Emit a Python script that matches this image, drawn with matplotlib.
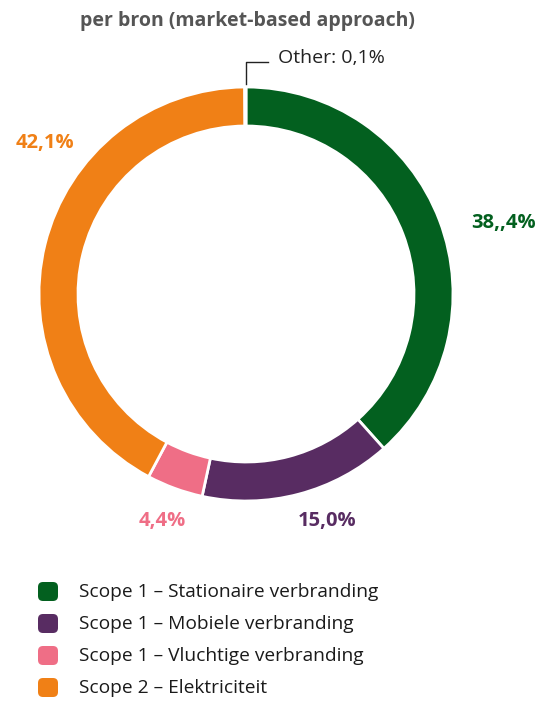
import matplotlib
matplotlib.use("Agg")
import matplotlib.pyplot as plt
from matplotlib.patches import FancyBboxPatch

plt.rcParams['font.family'] = ['Open Sans', 'DejaVu Sans']

title = "per bron (market-based approach)"
categories = ["Scope 1 – Stationaire verbranding", "Scope 1 – Mobiele verbranding",
              "Scope 1 – Vluchtige verbranding", "Scope 2 – Elektriciteit", "Other"]
values = [38.4, 15.0, 4.4, 42.1, 0.1]
value_labels = ["38,,4%", "15,0%", "4,4%", "42,1%", "Other: 0,1%"]
colors = ["#03601f", "#582c62", "#ef6e86", "#f08016", "#b0b0b0"]

W, H = 552, 702
fig = plt.figure(figsize=(W / 100, H / 100), dpi=100)
ax = fig.add_axes([0, 0, 1, 1])

cx, cy, R = 246, H - 294, 207
ax.pie(values, colors=colors, startangle=90, counterclock=False,
       center=(cx, cy), radius=R, frame=True,
       wedgeprops=dict(width=39, edgecolor="white", linewidth=2))
ax.set_xlim(0, W)
ax.set_ylim(0, H)
ax.set_aspect("equal")
ax.axis("off")

fig.text(247 / W, 1 - 21 / H, title, ha="center", va="center",
         fontsize=14, fontweight="bold", color="#555555")

# value labels
label_pos = [(504, 223), (327, 521), (162, 521), (45, 143)]
for (x, y), lab, c in zip(label_pos, value_labels[:4], colors[:4]):
    ax.text(x, H - y, lab, ha="center", va="center", fontsize=14.5,
            fontweight="bold", color=c)

# Other annotation
ax.plot([246, 246, 268], [H - 84, H - 62, H - 62], color="#222222", lw=1)
ax.text(278, H - 58, value_labels[4], ha="left", va="center", fontsize=14,
        color="#222222")

# legend
rows = [592, 624, 656, 688]
for y, lab, c in zip(rows, categories[:4], colors[:4]):
    ax.add_patch(FancyBboxPatch((38, H - y - 9), 20, 19,
                                boxstyle="round,pad=0,rounding_size=5",
                                facecolor=c, edgecolor="none"))
    ax.text(79, H - y, lab, ha="left", va="center", fontsize=13.8,
            color="#1a1a1a")

fig.savefig("out.png", dpi=100)
